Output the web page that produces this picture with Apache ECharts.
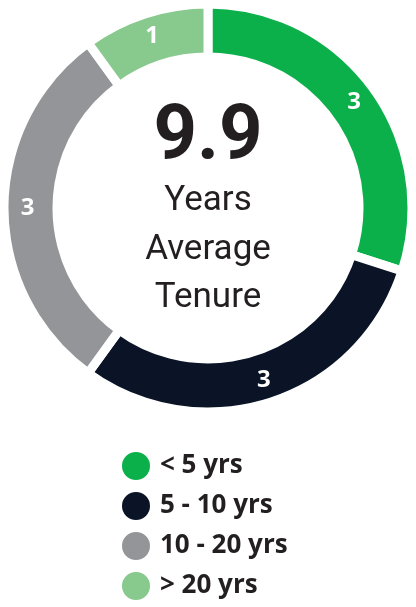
<!DOCTYPE html>
<html>
<head>
<meta charset="utf-8">
<script src="https://cdn.jsdelivr.net/npm/echarts@6/dist/echarts.min.js"></script>
<style>
html,body{margin:0;padding:0;background:#fff;}
#c{width:416px;height:607px;}
</style>
</head>
<body>
<div id="c"></div>
<script>
const categories = ['< 5 yrs', '5 - 10 yrs', '10 - 20 yrs', '> 20 yrs'];
const values = [3, 3, 3, 1];
const colors = ['#0BB04B', '#0A1426', '#939598', '#88C98E'];
const centerValue = '9.9';
const centerLines = ['Years', 'Average', 'Tenure'];
const centerLineTops = [184, 233, 281];

const chart = echarts.init(document.getElementById('c'), null, {renderer: 'canvas'});
chart.setOption({
  backgroundColor: '#ffffff',
  animation: false,
  color: colors,
  legend: {
    orient: 'vertical',
    left: 120,
    top: 450,
    height: 160,
    icon: 'circle',
    itemWidth: 30,
    itemHeight: 30,
    itemGap: 8,
    padding: 0,
    selectedMode: false,
    textStyle: {
      fontFamily: 'Open Sans',
      fontWeight: 'bold',
      fontSize: 26,
      color: '#231F20',
      lineHeight: 30,
      height: 30,
      padding: [0, 0, 0, 4]
    },
    data: categories
  },
  graphic: [
    {
      type: 'text',
      left: 'center',
      top: 101,
      style: {
        text: centerValue,
        fontFamily: 'Roboto',
        fontWeight: 'bold',
        fontSize: 76,
        fill: '#231F20'
      }
    }
  ].concat(centerLines.map((t, i) => ({
    type: 'text',
    left: 'center',
    top: centerLineTops[i],
    style: {
      text: t,
      fontFamily: 'Roboto',
      fontWeight: 'normal',
      fontSize: 35,
      fill: '#231F20'
    }
  }))),
  series: [{
    type: 'pie',
    center: [208, 208],
    radius: [151, 204],
    startAngle: 90,
    clockwise: true,
    avoidLabelOverlap: false,
    itemStyle: {borderColor: '#ffffff', borderWidth: 9},
    label: {
      show: true,
      position: 'inside',
      formatter: '{c}',
      color: '#ffffff',
      fontFamily: 'Open Sans',
      fontWeight: 'bold',
      fontSize: 24
    },
    labelLine: {show: false},
    emphasis: {disabled: true},
    data: categories.map((n, i) => ({name: n, value: values[i]}))
  }]
});
</script>
</body>
</html>
